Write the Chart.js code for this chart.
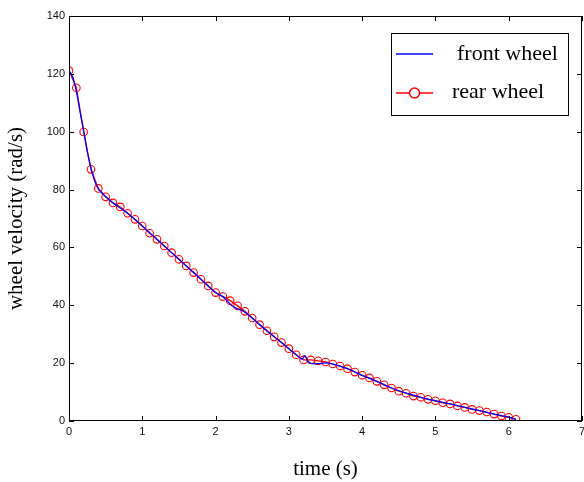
<!DOCTYPE html>
<html>
<head>
<meta charset="utf-8">
<script src="https://cdn.jsdelivr.net/npm/chart.js@4.4.1/dist/chart.umd.min.js"></script>
<style>
  html, body { margin: 0; padding: 0; background: #fff; }
  #wrap { width: 584px; height: 482px; }
</style>
</head>
<body>
<div id="wrap"><canvas id="myChart" width="584" height="482"></canvas></div>
<script>
// rear wheel, sampled every 0.1 s
const rearTime = [0, 0.1, 0.2, 0.3, 0.4, 0.5, 0.6, 0.7, 0.8, 0.9, 1.0, 1.1, 1.2, 1.3, 1.4, 1.5,
    1.6, 1.7, 1.8, 1.9, 2.0, 2.1, 2.2, 2.3, 2.4, 2.5, 2.6, 2.7, 2.8, 2.9, 3.0, 3.1, 3.2, 3.3,
    3.4, 3.5, 3.6, 3.7, 3.8, 3.9, 4.0, 4.1, 4.2, 4.3, 4.4, 4.5, 4.6, 4.7, 4.8, 4.9, 5.0, 5.1,
    5.2, 5.3, 5.4, 5.5, 5.6, 5.7, 5.8, 5.9, 6.0, 6.1];
const rearVel = [121.1, 115.2, 99.9, 87.0, 80.4, 77.5, 75.4, 74.0, 71.8, 69.7, 67.4, 64.9, 62.8,
    60.5, 58.2, 55.9, 53.6, 51.3, 49.0, 46.7, 44.4, 43.0, 41.6, 39.8, 37.9, 35.6, 33.3, 31.2,
    29.1, 27.1, 25.0, 22.9, 21.1, 21.1, 20.8, 20.4, 19.7, 19.0, 18.1, 16.9, 15.8, 14.9, 13.7,
    12.5, 11.4, 10.3, 9.6, 8.6, 8.2, 7.5, 7.0, 6.3, 5.9, 5.2, 4.7, 4.0, 3.6, 3.1, 2.4, 1.7,
    1.3, 0.6];
// front wheel, a bit denser where it leaves the rear curve
const frontTime = [0, 0.05, 0.1, 0.15, 0.2, 0.25, 0.3, 0.35, 0.4, 0.5, 0.6, 0.8, 1.0, 1.2, 1.4,
    1.6, 1.8, 2.0, 2.1, 2.15, 2.2, 2.25, 2.3, 2.35, 2.4, 2.5, 2.7, 2.9, 3.1, 3.18, 3.22, 3.25,
    3.3, 3.4, 3.5, 3.6, 3.8, 4.0, 4.2, 4.4, 4.6, 4.8, 5.0, 5.2, 5.4, 5.6, 5.8, 6.0, 6.1];
const frontVel = [121.1, 119.0, 114.0, 107.0, 100.5, 93.0, 87.5, 83.0, 80.2, 77.5, 75.4, 71.8,
    67.4, 62.8, 58.2, 53.6, 49.0, 44.4, 43.0, 41.8, 40.4, 39.4, 38.8, 38.3, 37.6, 35.6, 31.2,
    27.1, 22.9, 21.4, 22.6, 21.0, 19.9, 19.8, 20.1, 19.7, 18.1, 15.8, 13.7, 11.4, 9.6, 8.2,
    7.0, 5.9, 4.7, 3.6, 2.4, 1.3, 0.6];
const xTicks = [0, 1, 2, 3, 4, 5, 6, 7];
const yTicks = [0, 20, 40, 60, 80, 100, 120, 140];
const seriesNames = ["front wheel", "rear wheel"];

const toPoints = (xs, ys) => xs.map((x, i) => ({x: x, y: ys[i]}));

// MATLAB style box with inward ticks on all four sides, plus the legend box
const boxPlugin = {
    id: "box",
    afterDraw(chart) {
        const ctx = chart.ctx;
        const a = chart.chartArea;
        const xs = chart.scales.x;
        const ys = chart.scales.y;
        ctx.save();
        ctx.strokeStyle = "#000";
        ctx.lineWidth = 1;
        ctx.strokeRect(a.left + 0.5, a.top + 0.5, a.right - a.left - 1, a.bottom - a.top - 1);
        ctx.beginPath();
        xTicks.forEach((v) => {
            const px = Math.round(xs.getPixelForValue(v)) + 0.5;
            ctx.moveTo(px, a.bottom); ctx.lineTo(px, a.bottom - 5);
            ctx.moveTo(px, a.top); ctx.lineTo(px, a.top + 5);
        });
        yTicks.forEach((v) => {
            const py = Math.round(ys.getPixelForValue(v)) + 0.5;
            ctx.moveTo(a.left, py); ctx.lineTo(a.left + 5, py);
            ctx.moveTo(a.right, py); ctx.lineTo(a.right - 5, py);
        });
        ctx.stroke();

        // legend
        const lx = 391, ly = 33, lw = 177, lh = 82;
        ctx.fillStyle = "#fff";
        ctx.fillRect(lx, ly, lw, lh);
        ctx.strokeRect(lx + 0.5, ly + 0.5, lw, lh);
        ctx.lineWidth = 1.5;
        ctx.strokeStyle = "#0000ff";
        ctx.beginPath(); ctx.moveTo(396, 54); ctx.lineTo(433, 54); ctx.stroke();
        ctx.strokeStyle = "#ff0000";
        ctx.beginPath(); ctx.moveTo(396, 93); ctx.lineTo(433, 93); ctx.stroke();
        ctx.fillStyle = "#fff";
        ctx.beginPath(); ctx.arc(414.5, 93, 5, 0, Math.PI * 2); ctx.fill(); ctx.stroke();
        ctx.fillStyle = "#000";
        ctx.font = "22px 'Liberation Serif', serif";
        ctx.textBaseline = "middle";
        ctx.fillText(seriesNames[0], 457, 54);
        ctx.fillText(seriesNames[1], 452, 92);
        ctx.restore();
    }
};

const ctx = document.getElementById("myChart").getContext("2d");
const chart = new Chart(ctx, {
    type: "line",
    data: {
        datasets: [
            {
                label: seriesNames[0],
                data: toPoints(frontTime, frontVel),
                borderColor: "#0000ff",
                borderWidth: 1.3,
                pointRadius: 0,
                tension: 0.3,
            },
            {
                label: seriesNames[1],
                data: toPoints(rearTime, rearVel),
                borderColor: "#ff0000",
                backgroundColor: "rgba(0,0,0,0)",
                borderWidth: 1.3,
                pointRadius: 3.8,
                pointBorderWidth: 1.1,
                pointBorderColor: "#ff0000",
                pointBackgroundColor: "rgba(0,0,0,0)",
                tension: 0,
            },
        ],
    },
    options: {
        responsive: false,
        animation: false,
        layout: {autoPadding: false, padding: {top: 16, right: 2, left: 0, bottom: 0}},
        plugins: {
            legend: {display: false},
            tooltip: {enabled: false},
        },
        scales: {
            x: {
                type: "linear",
                min: 0,
                max: 7,
                afterFit: (scale) => {
                    scale.height = 61;
                    scale.paddingLeft = 0;
                    scale.paddingRight = 0;
                },
                afterBuildTicks: (scale) => { scale.ticks = xTicks.map((v) => ({value: v})); },
                grid: {display: false, drawTicks: false},
                border: {display: false},
                ticks: {
                    autoSkip: false,
                    maxRotation: 0,
                    padding: 4,
                    color: "#111",
                    font: {family: "'Liberation Sans', Arial, sans-serif", size: 11},
                },
                title: {
                    display: true,
                    text: "time (s)",
                    color: "#000",
                    padding: {top: 6, bottom: 0},
                    font: {family: "'Liberation Serif', serif", size: 21},
                },
            },
            y: {
                type: "linear",
                min: 0,
                max: 140,
                afterFit: (scale) => {
                    scale.width = 69;
                    scale.paddingTop = 0;
                    scale.paddingBottom = 0;
                },
                afterBuildTicks: (scale) => { scale.ticks = yTicks.map((v) => ({value: v})); },
                grid: {display: false, drawTicks: false},
                border: {display: false},
                ticks: {
                    padding: 4,
                    color: "#111",
                    font: {family: "'Liberation Sans', Arial, sans-serif", size: 11},
                },
                title: {
                    display: true,
                    text: "wheel velocity (rad/s)",
                    color: "#000",
                    padding: {top: 4, bottom: 4},
                    font: {family: "'Liberation Serif', serif", size: 21},
                },
            },
        },
    },
    plugins: [boxPlugin],
});
</script>
</body>
</html>
